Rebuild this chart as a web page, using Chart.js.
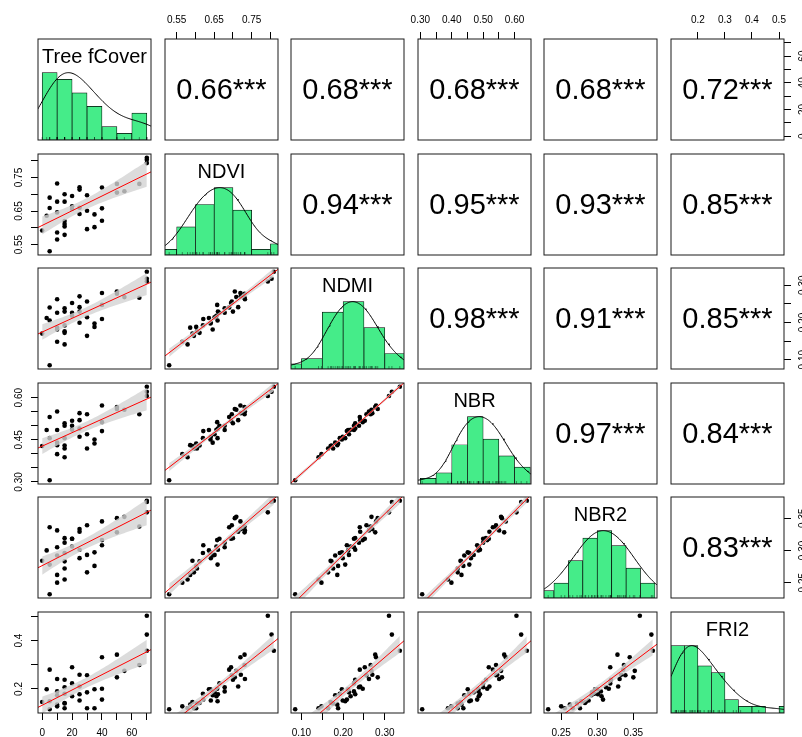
<!DOCTYPE html>
<html>
<head>
<meta charset="utf-8">
<script src="https://cdn.jsdelivr.net/npm/chart.js@4.4.1/dist/chart.umd.min.js"></script>
<style>
  html, body { margin: 0; padding: 0; background: #fff; overflow: hidden; }
  #plot { position: relative; width: 802px; height: 737px; overflow: hidden; background: #fff; }
  #plot canvas { position: absolute; }
</style>
</head>
<body>
<div id="plot"></div>
<script>
// ---- data (one value per site, same order in every array) ----
const varNames = ['Tree fCover', 'NDVI', 'NDMI', 'NBR', 'NBR2', 'FRI2'];

const treeCover = [0, 3, 5, 5, 5, 10, 10, 10, 10, 10, 15, 15, 15, 15, 15, 15, 20, 20, 20, 25,
  25, 25, 25, 30, 30, 30, 35, 35, 40, 40, 40, 50, 50, 55, 65, 70, 70, 70];
const ndvi = [0.592, 0.636, 0.530, 0.659, 0.690, 0.565, 0.586, 0.646, 0.678, 0.732, 0.579, 0.604,
  0.611, 0.620, 0.678, 0.700, 0.656, 0.664, 0.695, 0.641, 0.660, 0.714, 0.721, 0.596, 0.651,
  0.697, 0.602, 0.640, 0.621, 0.658, 0.720, 0.705, 0.731, 0.709, 0.731, 0.809, 0.803, 0.793];
const ndmi = [0.170, 0.212, 0.085, 0.205, 0.240, 0.148, 0.186, 0.181, 0.226, 0.262, 0.141, 0.176,
  0.172, 0.192, 0.238, 0.229, 0.218, 0.226, 0.252, 0.199, 0.229, 0.241, 0.270, 0.164, 0.214,
  0.256, 0.188, 0.197, 0.209, 0.247, 0.279, 0.283, 0.277, 0.268, 0.266, 0.336, 0.317, 0.310];
const nbr = [0.428, 0.485, 0.306, 0.456, 0.531, 0.399, 0.431, 0.440, 0.485, 0.551, 0.388, 0.419,
  0.430, 0.456, 0.500, 0.509, 0.486, 0.500, 0.518, 0.461, 0.490, 0.520, 0.545, 0.419, 0.470,
  0.541, 0.437, 0.451, 0.481, 0.513, 0.572, 0.560, 0.567, 0.557, 0.541, 0.639, 0.621, 0.606];
const nbr2 = [0.284, 0.300, 0.232, 0.278, 0.336, 0.250, 0.262, 0.292, 0.305, 0.331, 0.255, 0.272,
  0.283, 0.296, 0.312, 0.319, 0.306, 0.318, 0.318, 0.288, 0.301, 0.329, 0.333, 0.266, 0.293,
  0.339, 0.276, 0.297, 0.308, 0.316, 0.345, 0.350, 0.328, 0.352, 0.337, 0.377, 0.375, 0.359];
const fri2 = [0.146, 0.199, 0.116, 0.149, 0.280, 0.128, 0.135, 0.174, 0.190, 0.241, 0.120, 0.140,
  0.142, 0.180, 0.207, 0.238, 0.170, 0.223, 0.290, 0.152, 0.178, 0.210, 0.259, 0.120, 0.186,
  0.257, 0.120, 0.199, 0.156, 0.201, 0.331, 0.248, 0.342, 0.275, 0.299, 0.358, 0.425, 0.503];

// histogram breaks and counts
const histBreaks = [
  [0, 10, 20, 30, 40, 50, 60, 70],
  [0.50, 0.55, 0.60, 0.65, 0.70, 0.75, 0.80, 0.85],
  [0.05, 0.10, 0.15, 0.20, 0.25, 0.30, 0.35],
  [0.30, 0.35, 0.40, 0.45, 0.50, 0.55, 0.60, 0.65],
  [0.22, 0.24, 0.26, 0.28, 0.30, 0.32, 0.34, 0.36, 0.38],
  [0.10, 0.15, 0.20, 0.25, 0.30, 0.35, 0.40, 0.45, 0.50, 0.55]
];
const histCounts = [
  [10, 9, 7, 5, 2, 1, 4],
  [1, 5, 9, 12, 8, 1, 2],
  [1, 2, 11, 13, 8, 3],
  [1, 2, 7, 12, 8, 5, 3],
  [1, 2, 5, 8, 9, 7, 4, 2],
  [10, 10, 7, 6, 2, 1, 1, 0, 1]
];

// upper panels, row by row
const corrValues = [0.66, 0.68, 0.68, 0.68, 0.72, 0.94, 0.95, 0.93, 0.85, 0.98, 0.91, 0.85, 0.97, 0.84, 0.83];
const corrStars = '***';

// axis ticks and which of them carry a label
const tickValues = [
  [0, 10, 20, 30, 40, 50, 60, 70],
  [0.55, 0.60, 0.65, 0.70, 0.75, 0.80],
  [0.10, 0.15, 0.20, 0.25, 0.30],
  [0.30, 0.35, 0.40, 0.45, 0.50, 0.55, 0.60],
  [0.25, 0.30, 0.35],
  [0.2, 0.3, 0.4, 0.5]
];
const xTickLabels = [[0, 20, 40, 60], [0.55, 0.65, 0.75], [0.10, 0.20, 0.30], [0.30, 0.40, 0.50, 0.60], [0.25, 0.30, 0.35], [0.2, 0.3, 0.4, 0.5]];
const yTickLabels = [[0, 20, 40, 60], [0.55, 0.65, 0.75], [0.10, 0.20, 0.30], [0.30, 0.45, 0.60], [0.25, 0.30, 0.35], [0.2, 0.4]];
const tickDecimals = [0, 2, 2, 2, 2, 1];

// ---- look ----
const FONT = '"Liberation Sans", Arial, Helvetica, sans-serif';
const GREEN = 'rgb(69, 236, 137)';
const BAND = 'rgba(211, 211, 211, 0.8)';
const M = 40, PW = 113, PH = 101;
const colLeft = [38, 165, 291, 418, 544, 671];
const rowTop = [39, 154, 268, 383, 497, 612];
const T_CRIT = 2.028; // qt(0.975, 36)

const series = [treeCover, ndvi, ndmi, nbr, nbr2, fri2];
const limits = series.map(v => {
  const lo = Math.min(...v), hi = Math.max(...v), r = hi - lo;
  return [lo - 0.04 * r, hi + 0.04 * r];
});

const measureCtx = document.createElement('canvas').getContext('2d');
measureCtx.font = '10px ' + FONT;

function quantile(sorted, p) {
  const h = (sorted.length - 1) * p, lo = Math.floor(h);
  return sorted[lo] + (h - lo) * ((sorted[lo + 1] ?? sorted[lo]) - sorted[lo]);
}

function densityLine(x) {
  const n = x.length;
  const mean = x.reduce((a, b) => a + b, 0) / n;
  const sd = Math.sqrt(x.reduce((a, b) => a + (b - mean) ** 2, 0) / (n - 1));
  const s = [...x].sort((a, b) => a - b);
  const iqr = quantile(s, 0.75) - quantile(s, 0.25);
  const bw = 1.2 * 1.06 * Math.min(sd, iqr / 1.34) * Math.pow(n, -0.2);
  const from = s[0] - 3 * bw, to = s[n - 1] + 3 * bw;
  const pts = [];
  for (let k = 0; k <= 200; k++) {
    const g = from + (to - from) * k / 200;
    let d = 0;
    for (const v of x) d += Math.exp(-0.5 * ((g - v) / bw) ** 2);
    pts.push({ x: g, y: d });
  }
  const top = Math.max(...pts.map(p => p.y));
  return pts.map(p => ({ x: p.x, y: p.y / top }));
}

function linFit(x, y) {
  const n = x.length;
  const mx = x.reduce((a, b) => a + b, 0) / n, my = y.reduce((a, b) => a + b, 0) / n;
  let sxx = 0, sxy = 0;
  for (let k = 0; k < n; k++) { sxx += (x[k] - mx) ** 2; sxy += (x[k] - mx) * (y[k] - my); }
  const b = sxy / sxx, a = my - b * mx;
  let sse = 0;
  for (let k = 0; k < n; k++) sse += (y[k] - a - b * x[k]) ** 2;
  const s2 = sse / (n - 2);
  return { a, b, se: x0 => Math.sqrt(s2 * (1 / n + (x0 - mx) ** 2 / sxx)) };
}

function makeScale(axis, side, range, ticks, labels, dec) {
  const text = v => labels.some(l => Math.abs(l - v) < 1e-9) ? v.toFixed(dec) : '';
  let pad;
  if (axis === 'x') pad = side === 'top' ? 6 : 7.5;
  else {
    const widest = Math.max(0, ...labels.map(l => measureCtx.measureText(l.toFixed(dec)).width));
    pad = 11.8 - widest / 2;
  }
  return {
    type: 'linear',
    display: !!side,
    position: side || (axis === 'x' ? 'bottom' : 'left'),
    min: range[0],
    max: range[1],
    offset: false,
    afterBuildTicks: s => {
      s.ticks = ticks.filter(t => t >= range[0] - 1e-9 && t <= range[1] + 1e-9).map(t => ({ value: t }));
    },
    afterFit: s => {
      if (!s.options.display) return;
      if (s.isHorizontal()) s.height = M; else s.width = M;
    },
    border: { display: false },
    grid: { offset: false, drawOnChartArea: false, drawTicks: true, tickLength: 7, color: '#000', lineWidth: 1 },
    ticks: {
      autoSkip: false,
      padding: pad,
      color: '#000',
      font: { family: FONT, size: 10 },
      minRotation: axis === 'y' ? 90 : 0,
      maxRotation: axis === 'y' ? 90 : 0,
      crossAlign: axis === 'y' ? 'center' : 'near',
      callback: v => text(v)
    }
  };
}

const panelBox = {
  id: 'panelBox',
  afterDraw(chart, args, opts) {
    const { ctx, chartArea: a } = chart;
    ctx.save();
    if (opts.text) {
      ctx.font = opts.size + 'px ' + FONT;
      ctx.fillStyle = '#000';
      ctx.textAlign = 'center';
      ctx.textBaseline = 'middle';
      const y = opts.atTop ? a.top + 18 : (a.top + a.bottom) / 2 + 1;
      ctx.fillText(opts.text, (a.left + a.right) / 2, y);
    }
    ctx.strokeStyle = '#1a1a1a';
    ctx.lineWidth = 1;
    ctx.strokeRect(a.left, a.top, a.right - a.left, a.bottom - a.top);
    ctx.restore();
  }
};

const plot = document.getElementById('plot');
let upperIdx = 0;

for (let i = 0; i < 6; i++) {
  for (let j = 0; j < 6; j++) {
    const cv = document.createElement('canvas');
    cv.width = PW + 2 * M;
    cv.height = PH + 2 * M;
    cv.style.left = (colLeft[j] - M) + 'px';
    cv.style.top = (rowTop[i] - M) + 'px';
    plot.appendChild(cv);

    const xSide = (i === 0 && j % 2 === 1) ? 'top' : (i === 5 && j % 2 === 0) ? 'bottom' : null;
    const ySide = (j === 0 && i % 2 === 1) ? 'left' : (j === 5 && i % 2 === 0) ? 'right' : null;

    const datasets = [];
    let boxOpts = {};
    let yScale;
    let xTicks = tickValues[j];

    if (i === j) {
      const br = histBreaks[i], cnt = histCounts[i];
      const top = Math.max(...cnt);
      xTicks = br;
      datasets.push({
        type: 'bar',
        data: cnt.map((c, k) => ({ x: (br[k] + br[k + 1]) / 2, y: c / top })),
        backgroundColor: GREEN,
        borderColor: '#000',
        borderWidth: 0.7,
        borderSkipped: false,
        barPercentage: 1,
        categoryPercentage: 1,
        grouped: false,
        order: 3
      });
      datasets.push({
        type: 'scatter',
        data: series[i].map(v => ({ x: v, y: 0.02 })),
        pointStyle: 'line',
        rotation: 90,
        pointRadius: 1.6,
        borderColor: 'rgba(0,0,0,0.6)',
        borderWidth: 0.7,
        order: 2
      });
      datasets.push({
        type: 'line',
        data: densityLine(series[i]),
        borderColor: '#000',
        borderWidth: 1,
        pointRadius: 0,
        fill: false,
        order: 1
      });
      boxOpts = { text: varNames[i], size: 20, atTop: true };
      yScale = makeScale('y', null, [0, 1.5], [0, 0.5, 1, 1.5], [], 0);
    } else if (i > j) {
      const xs = series[j], ys = series[i];
      const fit = linFit(xs, ys);
      const lo = Math.min(...xs), hi = Math.max(...xs);
      const lower = [], upper = [];
      for (let k = 0; k < 47; k++) {
        const x0 = lo + (hi - lo) * k / 46;
        const yh = fit.a + fit.b * x0, d = T_CRIT * fit.se(x0);
        lower.push({ x: x0, y: yh - d });
        upper.push({ x: x0, y: yh + d });
      }
      const [x1, x2] = limits[j];
      datasets.push({
        type: 'scatter',
        data: xs.map((v, k) => ({ x: v, y: ys[k] })),
        pointRadius: 2.3,
        pointBackgroundColor: '#000',
        pointBorderWidth: 0,
        order: 3
      });
      datasets.push({
        type: 'line', data: lower, borderColor: 'rgba(0,0,0,0)', pointRadius: 0, fill: false, order: 2
      });
      datasets.push({
        type: 'line', data: upper, borderColor: 'rgba(0,0,0,0)', pointRadius: 0, fill: '-1',
        backgroundColor: BAND, order: 2
      });
      datasets.push({
        type: 'line',
        data: [{ x: x1, y: fit.a + fit.b * x1 }, { x: x2, y: fit.a + fit.b * x2 }],
        borderColor: '#ff0000',
        borderWidth: 1,
        pointRadius: 0,
        fill: false,
        order: 1
      });
      yScale = makeScale('y', ySide, limits[i], tickValues[i], ySide ? yTickLabels[i] : [], tickDecimals[i]);
    } else {
      boxOpts = { text: corrValues[upperIdx++].toFixed(2) + corrStars, size: 29, atTop: false };
      yScale = makeScale('y', ySide, limits[i], tickValues[i], ySide ? yTickLabels[i] : [], tickDecimals[i]);
    }

    new Chart(cv, {
      type: 'scatter',
      data: { datasets },
      options: {
        responsive: false,
        animation: false,
        devicePixelRatio: 1,
        events: [],
        datasets: { bar: { barPercentage: 1, categoryPercentage: 1 } },
        layout: {
          padding: {
            top: xSide === 'top' ? 0 : M,
            bottom: xSide === 'bottom' ? 0 : M,
            left: ySide === 'left' ? 0 : M,
            right: ySide === 'right' ? 0 : M
          }
        },
        scales: {
          x: makeScale('x', xSide, limits[j], xTicks, xSide ? xTickLabels[j] : [], tickDecimals[j]),
          y: yScale
        },
        plugins: {
          legend: { display: false },
          tooltip: { enabled: false },
          panelBox: boxOpts
        }
      },
      plugins: [panelBox]
    });
  }
}
</script>
</body>
</html>
